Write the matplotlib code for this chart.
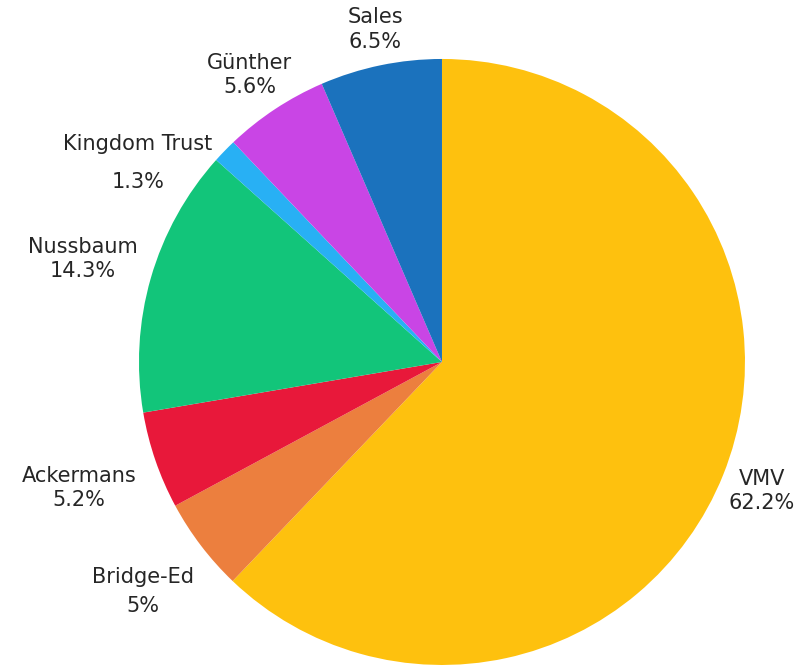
import numpy as np
import matplotlib.pyplot as plt

plt.rcParams['font.family'] = ['DejaVu Sans']

# dados
names = ["VMV", "Bridge-Ed", "Ackermans", "Nussbaum", "Kingdom Trust", "Günther", "Sales"]
shares = [62.2, 5, 5.2, 14.3, 1.3, 5.6, 6.5]
pct_text = ["62.2%", "5%", "5.2%", "14.3%", "1.3%", "5.6%", "6.5%"]
colors = ["#FEC10E", "#EC7F3E", "#E8183A", "#12C57A", "#28B0F4", "#C945E5", "#1B72BD"]

# posições dos rótulos (em raios, centro do texto)
label_xy = [(1.055, -0.426), (-0.987, -0.757), (-1.198, -0.416), (-1.185, 0.340),
            (-1.003, 0.657), (-0.634, 0.947), (-0.221, 1.096)]
line_gap = [1.3, 1.6, 1.3, 1.3, 2.15, 1.3, 1.3]

fig = plt.figure(figsize=(7.96, 6.66), dpi=100)
ax = fig.add_axes([0.1746, 0.0015, 0.7613, 0.91])
wedges, _ = ax.pie(shares, colors=colors, startangle=90, counterclock=False,
                   radius=1, wedgeprops=dict(linewidth=0))
ax.set_xlim(-1, 1)
ax.set_ylim(-1, 1)

for name, pct, (x, y), ls in zip(names, pct_text, label_xy, line_gap):
    ax.text(x, y, name + "\n" + pct, ha="center", va="center", fontsize=15,
            color="#262626", linespacing=ls, multialignment="center")

fig.savefig("out.png", dpi=100)
